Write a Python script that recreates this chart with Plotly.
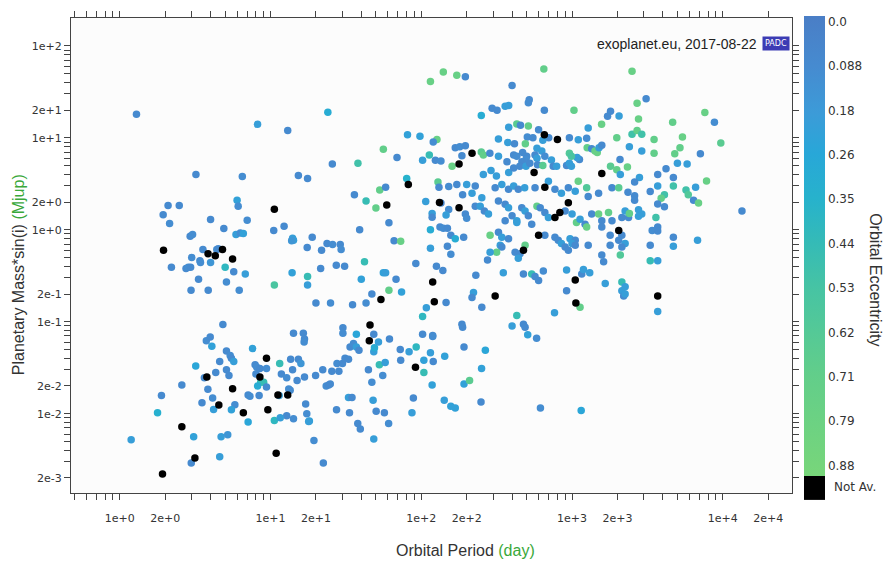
import plotly.graph_objects as go

# ---------------- data ----------------
# planets with a measured eccentricity
period_days = [
    # upper-left / middle band
    1.29, 24, 8.2, 13, 3.2, 6.5, 15.3, 17.6, 25.7, 38,
    81, 98, 127, 56, 120, 102, 113, 124, 135, 160,
    80, 129, 131, 152, 53, 58, 69, 36, 43, 50,
    107, 118, 135, 152, 146, 118, 115, 133, 140, 149,
    157, 39, 61, 66, 73, 115, 149, 157, 92, 126,
    139, 42, 40, 56, 58, 68, 47, 61, 74, 20,
    25, 35, 43,
    # left cluster (hot Jupiters)
    2.09, 2.48, 1.94, 2.14, 4.0, 6.0, 6.1, 7.0, 4.9, 5.9,
    6.3, 6.6, 2.93, 3.04, 10.5, 12.3, 14, 14.2, 13.8, 18.9,
    17.5, 21.8, 23.7, 25.8, 29, 29.4, 3.56, 4.4, 4.5, 3.0,
    3.4, 3.43, 4.0, 2.2, 2.75, 2.85, 2.95, 5.0, 5.7, 6.8,
    3.33, 5.1, 2.97, 3.86, 6.2, 10.6, 13.9, 17.6, 17.6, 21.5,
    27.3, 31,
    # lower-left (low mass)
    1.19, 1.78, 1.89, 2.58, 3.09, 2.98, 3.19, 3.75, 3.98, 4.08,
    4.83, 4.6, 4.33, 3.64, 3.84, 4.13, 3.51, 4.19, 5.1, 5.1,
    5.4, 5.5, 5.7, 5.3, 5.8, 5.5, 4.7, 5.2, 4.6, 7.1,
    7.6, 7.9, 8.1, 8.0, 8.5, 9.4, 8.6, 9.0, 8.2, 9.4,
    8.4, 7.1, 7.3, 10.6, 11.5, 11.8, 12.8, 11.4, 13.5, 13.2,
    13.6, 14, 15.3, 15.9, 15, 16.8, 14.2, 16.5, 16.8, 16.7,
    12.8, 14.2, 11.6, 17.1, 17.4, 18.1, 17.9, 19.4, 22.4, 19.9,
    22.2, 23.4, 24.3, 24.9, 25.5, 27.6, 28.4, 27.4, 30, 30.2,
    30.2, 31.2, 32.9, 33.7, 35.5, 37.1, 38.6, 37.1, 32.9, 34.7,
    33.4, 37.9, 39.4, 44.6, 47, 48.4, 48.9, 48.4, 52, 52.7,
    57.6, 55.5, 47.9, 50.2, 56.9, 60.7, 48.4, 61.5, 72.5, 73,
    83, 92.5, 102, 104, 104, 115, 119, 119, 120, 118,
    88.6, 86.7, 143, 142, 157, 102, 146, 108,
    # lower-middle and top
    192, 266, 251, 192, 209, 249, 617, 1150, 168, 508,
    582, 115, 140,
    # upper-middle dense region
    172, 196, 650, 400, 520, 513, 295, 318, 360, 380,
    655, 1030, 250, 1800, 1720, 2050, 1570, 380, 430, 455,
    513, 600, 700, 505, 550, 640, 960, 1100, 1250, 1280,
    1980, 325, 375, 415, 490, 585, 630, 168, 180, 196,
    186, 250, 258, 285, 325, 370, 410, 430, 470, 500,
    495, 465, 450, 495, 525, 568, 585, 590, 660, 730,
    750, 640, 790, 920, 960, 990, 1120, 1080, 960, 990,
    1260, 1350, 1420, 1470, 1510, 1575, 1800, 1980, 2080, 2330,
    290, 380, 315, 258, 410,
    # central dense region
    172, 200, 228, 217, 188, 252, 309, 342, 379, 410,
    440, 485, 568, 697, 770, 850, 945, 1050, 1100, 1250,
    1280, 1500, 1840, 2040, 2090, 196, 200, 228, 246, 262,
    279, 325, 360, 379, 400, 430, 464, 488, 513, 585,
    615, 660, 697, 900, 1000, 1070, 1130, 1220, 1250, 1350,
    1500, 1575, 1745, 1840, 2140, 2250, 2370, 168, 191, 286,
    325, 342, 379, 360, 430, 540, 660, 770, 810, 850,
    970, 1050, 1575, 1790, 2140, 1790, 2040, 2250, 334, 342,
    316, 286, 275, 419, 452, 488, 440, 900, 945, 1000,
    1050, 1280, 1575, 1620, 2090, 2140, 230, 350, 476, 540,
    568, 600, 645, 920, 1160, 1190, 1310, 1660, 2140, 222,
    217, 252, 920, 1130, 2140, 2200, 186, 188, 400, 430,
    476, 488, 765,
    # right, long periods
    2800, 3700, 4700, 7800, 2600, 3700, 4700, 6600, 2350, 2600,
    2600, 3300, 4100, 3900, 5700, 5900, 6400, 6900, 3700, 4100,
    2760, 2900, 2400, 2760, 3600, 13400, 3700, 3400, 3700,
    3300, 4700, 4700, 6800, 3300, 3700, 2250,
    2250, 3700,
    # upper right
    2500, 3100, 2700, 2760, 4650, 7600, 8800, 2500, 2700, 2900,
    2400, 3500, 5400, 5200, 4800, 3500, 2900, 9700, 7100, 5000,
    5800, 4200,
]

mass_mjup = [
    18, 19, 14, 12, 4.0, 3.8, 3.9, 3.6, 5.2, 5.3,
    10.8, 10.4, 9.6, 7.5, 9.0, 5.7, 6.5, 5.7, 5.6, 4.9,
    3.6, 3.3, 2.9, 2.96, 2.7, 2.9, 6.1, 2.4, 2.06, 1.72,
    2.03, 1.5, 1.95, 1.66, 1.45, 1.37, 1.0, 1.07, 1.04, 1.04,
    0.87, 1.0, 1.19, 0.76, 0.75, 0.63, 0.66, 0.54, 0.43, 0.4,
    0.36, 0.45, 0.29, 0.34, 0.34, 0.29, 0.20, 0.22, 0.21, 0.16,
    0.16, 0.153, 0.16,
    1.84, 1.84, 1.46, 1.17, 1.29, 2.09, 1.80, 1.27, 1.03, 0.89,
    0.92, 0.91, 0.85, 0.89, 0.98, 1.09, 0.81, 0.77, 0.76, 0.83,
    0.64, 0.60, 0.71, 0.69, 0.69, 0.61, 0.61, 0.61, 0.62, 0.5,
    0.46, 0.44, 0.44, 0.39, 0.38, 0.39, 0.39, 0.39, 0.35, 0.33,
    0.29, 0.27, 0.22, 0.22, 0.22, 0.25, 0.34, 0.31, 0.25, 0.38,
    0.41, 0.4,
    0.0052, 0.0102, 0.0158, 0.0205, 0.0056, 0.0029, 0.033, 0.062, 0.068, 0.054,
    0.093, 0.037, 0.028, 0.0245, 0.0184, 0.0148, 0.0131, 0.0111, 0.030, 0.048,
    0.043, 0.040, 0.037, 0.026, 0.0125, 0.011, 0.0056, 0.0059, 0.0034, 0.0081,
    0.051, 0.034, 0.032, 0.027, 0.031, 0.031, 0.022, 0.022, 0.020, 0.0195,
    0.0158, 0.016, 0.0155, 0.0084, 0.035, 0.027, 0.0245, 0.0158, 0.018, 0.0185,
    0.039, 0.030, 0.039, 0.035, 0.023, 0.025, 0.075, 0.075, 0.065, 0.060,
    0.0095, 0.0088, 0.009, 0.0127, 0.010, 0.0083, 0.0082, 0.0051, 0.0029, 0.026,
    0.030, 0.020, 0.0205, 0.021, 0.029, 0.035, 0.029, 0.011, 0.035, 0.086,
    0.075, 0.040, 0.039, 0.053, 0.058, 0.053, 0.049, 0.073, 0.015, 0.015,
    0.0102, 0.0078, 0.0068, 0.030, 0.022, 0.047, 0.052, 0.073, 0.060, 0.034,
    0.036, 0.026, 0.014, 0.0106, 0.0102, 0.0078, 0.0053, 0.065, 0.050, 0.038,
    0.047, 0.053, 0.073, 0.038, 0.028, 0.046, 0.071, 0.069, 0.037, 0.0205,
    0.0148, 0.0102, 0.042, 0.014, 0.012, 0.114, 0.162, 0.142,
    0.053, 0.049, 0.031, 0.021, 0.023, 0.0134, 0.0115, 0.0108, 0.0115, 0.072,
    0.066, 41, 52,
    48, 46, 56, 37, 26, 24, 21, 20, 22, 22.5,
    20, 20, 17.5, 19.5, 17.2, 17.3, 14, 13, 14.1, 13.7,
    13.4, 12.2, 10, 10.2, 10, 9.4, 10, 9.5, 9.9, 12.8,
    10, 9.7, 8.9, 8.6, 8.6, 7.7, 7.2, 7.8, 8.0, 8.2,
    6.4, 7.0, 6.5, 6.8, 6.3, 5.5, 6.5, 6.3, 6.9, 6.3,
    5.8, 5.5, 4.9, 4.9, 5.3, 6.5, 6.0, 5.1, 6.3, 5.75,
    4.9, 5.0, 4.9, 5.0, 5.3, 4.9, 5.8, 6.1, 6.8, 6.3,
    7.8, 7.6, 7.2, 6.9, 7.8, 8.3, 4.9, 4.5, 5.8, 4.8,
    4.4, 4.2, 3.85, 4.0, 4.7,
    3.1, 3.1, 3.0, 2.5, 2.4, 2.23, 2.86, 3.1, 2.75, 3.0,
    2.75, 2.86, 2.86, 3.37, 2.75, 2.5, 2.86, 2.63, 3.37, 2.86,
    2.3, 2.5, 2.86, 2.86, 4.0, 1.48, 1.33, 1.8, 1.8, 1.6,
    1.48, 2.05, 1.89, 1.74, 1.42, 1.25, 1.74, 1.6, 1.42, 1.8,
    1.74, 1.54, 1.36, 1.6, 1.48, 1.2, 1.3, 1.15, 1.07, 1.48,
    1.48, 1.25, 1.54, 1.25, 1.36, 1.6, 1.36, 0.8, 0.83, 0.87,
    0.94, 0.83, 0.8, 1.25, 1.2, 1.15, 0.87, 0.83, 0.77, 0.71,
    0.8, 0.77, 1.07, 0.87, 0.87, 0.68, 0.77, 0.71, 0.68, 0.65,
    0.57, 0.57, 0.47, 0.57, 0.55, 0.68, 0.49, 0.65, 0.6, 0.71,
    0.68, 0.68, 0.53, 0.45, 0.53, 0.65, 0.32, 0.34, 0.33, 0.33,
    0.31, 0.28, 0.355, 0.365, 0.33, 0.37, 0.34, 0.26, 0.27, 0.208,
    0.183, 0.144, 0.217, 0.144, 0.217, 0.19, 0.094, 0.087, 0.09, 0.117,
    0.094, 0.087, 0.125,
    3.7, 4.0, 3.7, 3.4, 3.3, 3.0, 3.0, 2.9, 2.55, 2.35,
    2.1, 2.6, 2.4, 2.2, 2.7, 2.4, 2.1, 1.95, 1.9, 1.78,
    1.65, 1.48, 1.5, 1.40, 1.36, 1.6, 1.07, 0.98, 0.97,
    0.68, 0.83, 0.66, 0.77, 0.46, 0.46, 0.24,
    0.2, 0.129,
    53, 26.6, 23.7, 16, 14.8, 18.9, 14.8, 10.9, 12, 10.9,
    8, 9.6, 10.2, 7.8, 6.7, 6.8, 7.2, 8.8, 6.7, 5.3,
    5.2, 4.6,
]

eccentricity = [
    0.08, 0.3, 0.2, 0.08, 0.08, 0.1, 0.08, 0.08, 0.08, 0.5,
    0.22, 0.22, 0.75, 0.7, 0.1, 0.2, 0.45, 0.08, 0.1, 0.75,
    0.35, 0.65, 0.08, 0.1, 0.7, 0.08, 0.08, 0.08, 0.45, 0.7,
    0.2, 0.2, 0.05, 0.1, 0.2, 0.08, 0.3, 0.08, 0.1, 0.08,
    0.08, 0.08, 0.08, 0.08, 0.75, 0.2, 0.08, 0.1, 0.08, 0.08,
    0.08, 0.45, 0.22, 0.22, 0.2, 0.08, 0.08, 0.7, 0.22, 0.08,
    0.1, 0.08, 0.1,
    0.08, 0.08, 0.08, 0.1, 0.08, 0.22, 0.1, 0.1, 0.08, 0.2,
    0.1, 0.22, 0.08, 0.1, 0.08, 0.08, 0.2, 0.2, 0.15, 0.08,
    0.08, 0.08, 0.08, 0.1, 0.08, 0.1, 0.08, 0.1, 0.08, 0.1,
    0.08, 0.1, 0.15, 0.08, 0.08, 0.1, 0.08, 0.4, 0.08, 0.2,
    0.08, 0.1, 0.08, 0.08, 0.1, 0.55, 0.22, 0.45, 0.2, 0.08,
    0.08, 0.08,
    0.2, 0.33, 0.08, 0.08, 0.22, 0.08, 0.25, 0.1, 0.08, 0.22,
    0.08, 0.08, 0.08, 0.08, 0.08, 0.1, 0.08, 0.2, 0.08, 0.08,
    0.1, 0.08, 0.2, 0.08, 0.1, 0.22, 0.2, 0.15, 0.2, 0.25,
    0.22, 0.08, 0.1, 0.08, 0.08, 0.1, 0.45, 0.45, 0.3, 0.08,
    0.08, 0.08, 0.1, 0.4, 0.45, 0.08, 0.1, 0.2, 0.08, 0.1,
    0.08, 0.08, 0.08, 0.15, 0.08, 0.08, 0.08, 0.08, 0.08, 0.1,
    0.08, 0.1, 0.2, 0.08, 0.1, 0.22, 0.2, 0.1, 0.08, 0.08,
    0.08, 0.1, 0.08, 0.08, 0.08, 0.1, 0.08, 0.08, 0.08, 0.08,
    0.1, 0.08, 0.08, 0.08, 0.1, 0.2, 0.08, 0.25, 0.2, 0.08,
    0.08, 0.08, 0.08, 0.08, 0.1, 0.2, 0.3, 0.08, 0.2, 0.45,
    0.2, 0.1, 0.2, 0.08, 0.08, 0.1, 0.2, 0.08, 0.08, 0.08,
    0.2, 0.4, 0.08, 0.22, 0.45, 0.2, 0.08, 0.1, 0.08, 0.22,
    0.08, 0.2, 0.22, 0.2, 0.22, 0.4, 0.08, 0.2,
    0.08, 0.25, 0.22, 0.22, 0.65, 0.08, 0.1, 0.25, 0.22, 0.22,
    0.1, 0.75, 0.75,
    0.75, 0.08, 0.7, 0.08, 0.08, 0.1, 0.08, 0.08, 0.2, 0.2,
    0.08, 0.7, 0.3, 0.08, 0.08, 0.2, 0.75, 0.2, 0.65, 0.08,
    0.7, 0.08, 0.08, 0.1, 0.08, 0.2, 0.08, 0.2, 0.1, 0.2,
    0.7, 0.2, 0.2, 0.08, 0.7, 0.2, 0.2, 0.08, 0.1, 0.08,
    0.08, 0.65, 0.7, 0.08, 0.2, 0.08, 0.08, 0.1, 0.08, 0.08,
    0.1, 0.08, 0.08, 0.2, 0.08, 0.08, 0.2, 0.08, 0.1, 0.2,
    0.08, 0.65, 0.2, 0.08, 0.2, 0.2, 0.08, 0.2, 0.6, 0.55,
    0.7, 0.08, 0.75, 0.75, 0.2, 0.08, 0.65, 0.7, 0.08, 0.75,
    0.2, 0.2, 0.2, 0.2, 0.08,
    0.08, 0.2, 0.08, 0.2, 0.08, 0.2, 0.08, 0.2, 0.08, 0.2,
    0.08, 0.2, 0.08, 0.2, 0.08, 0.2, 0.08, 0.2, 0.75, 0.6,
    0.08, 0.08, 0.08, 0.65, 0.2, 0.08, 0.1, 0.08, 0.2, 0.08,
    0.2, 0.08, 0.08, 0.2, 0.08, 0.2, 0.08, 0.2, 0.08, 0.7,
    0.08, 0.08, 0.2, 0.08, 0.2, 0.7, 0.2, 0.08, 0.75, 0.08,
    0.75, 0.08, 0.7, 0.08, 0.08, 0.2, 0.08, 0.3, 0.08, 0.75,
    0.08, 0.2, 0.08, 0.08, 0.2, 0.08, 0.08, 0.08, 0.08, 0.2,
    0.2, 0.08, 0.08, 0.08, 0.08, 0.08, 0.08, 0.2, 0.2, 0.08,
    0.7, 0.2, 0.08, 0.08, 0.08, 0.7, 0.2, 0.08, 0.08, 0.2,
    0.08, 0.08, 0.08, 0.08, 0.6, 0.08, 0.08, 0.2, 0.08, 0.45,
    0.08, 0.08, 0.1, 0.2, 0.08, 0.2, 0.2, 0.2, 0.45, 0.2,
    0.08, 0.08, 0.08, 0.7, 0.2, 0.08, 0.08, 0.08, 0.2, 0.45,
    0.08, 0.08, 0.2,
    0.2, 0.08, 0.08, 0.75, 0.08, 0.2, 0.5, 0.2, 0.08, 0.08,
    0.08, 0.08, 0.5, 0.7, 0.5, 0.6, 0.08, 0.75, 0.08, 0.08,
    0.2, 0.2, 0.7, 0.2, 0.5, 0.08, 0.08, 0.1, 0.08,
    0.08, 0.08, 0.2, 0.2, 0.45, 0.2, 0.2,
    0.2, 0.2,
    0.75, 0.08, 0.75, 0.75, 0.7, 0.75, 0.1, 0.5, 0.7, 0.5,
    0.2, 0.7, 0.75, 0.7, 0.7, 0.7, 0.2, 0.65, 0.08, 0.2,
    0.2, 0.08,
]

# planets whose eccentricity is not available (drawn black)
na_period_days = [
    10.6, 1.95, 3.85, 4.3, 4.8, 5.6,
    82, 59, 132, 178, 178, 54, 119, 122,
    1.92, 2.58, 3.15, 3.78, 4.54, 5.6, 6.6, 8.5, 9.4, 9.6,
    10.9, 11.2, 13, 45.7, 45.2, 91.5,
    217, 655, 800, 560, 1575,
    660, 770, 830, 945, 600, 2040, 476, 1050, 309, 1060,
    3700,
]
na_mass_mjup = [
    1.67, 0.60, 0.55, 0.52, 0.61, 0.48,
    3.1, 1.86, 1.98, 1.73, 5.2, 0.174, 0.27, 0.165,
    0.0022, 0.0072, 0.0033, 0.025, 0.0124, 0.0186, 0.0102, 0.025, 0.040, 0.011,
    0.0037, 0.016, 0.016, 0.092, 0.062, 0.032,
    6.8, 10.8, 9.6, 4.2, 4.1,
    2.9, 1.36, 1.54, 1.97, 0.87, 0.98, 0.6, 0.285, 0.19, 0.16,
    0.19,
]

assert len(period_days) == len(mass_mjup) == len(eccentricity), (
    len(period_days), len(mass_mjup), len(eccentricity))
assert len(na_period_days) == len(na_mass_mjup)

# axis ticks
x_major_vals = [1, 2, 10, 20, 100, 200, 1000, 2000, 10000, 20000]
x_major_text = ["1e+0", "2e+0", "1e+1", "2e+1", "1e+2", "2e+2",
                "1e+3", "2e+3", "1e+4", "2e+4"]
y_major_vals = [0.002, 0.01, 0.02, 0.1, 0.2, 1, 2, 10, 20, 100]
y_major_text = ["2e-3", "1e-2", "2e-2", "1e-1", "2e-1", "1e+0", "2e+0",
                "1e+1", "2e+1", "1e+2"]

ecc_tick_vals = [0.0, 0.088, 0.176, 0.264, 0.352, 0.44, 0.528, 0.616, 0.704, 0.792, 0.88]
ecc_tick_text = ["0.0", "0.088", "0.18", "0.26", "0.35", "0.44", "0.53",
                 "0.62", "0.71", "0.79", "0.88"]


def log_ticks(decades, lo, hi, major_vals, major_text):
    vals, text = [], []
    for d in decades:
        for m in range(1, 10):
            v = round(m * 10.0 ** d, 10)
            if lo <= v <= hi:
                vals.append(v)
                lab = ""
                for mv, mt in zip(major_vals, major_text):
                    if abs(mv - v) < 1e-9 * max(1, v):
                        lab = mt
                text.append(lab)
    return vals, text


x_vals, x_text = log_ticks(range(-1, 5), 0.48, 28000, x_major_vals, x_major_text)
y_vals, y_text = log_ticks(range(-3, 3), 0.0014, 190, y_major_vals, y_major_text)

# ---------------- figure ----------------
W, H = 892, 566
L, R, T, B = 71, 100, 11, 73
PW, PH = W - L - R, H - T - B


def px(xp):
    return (xp - L) / PW


def py(yp):
    return (H - B - yp) / PH


# colour scale in "negative eccentricity" so that 0.0 sits at the top of the bar
cmin, cmax = -0.90, 0.012
ecc_colors = [(0.90, "#78d67a"), (0.70, "#62ce8a"), (0.53, "#47c4a3"),
              (0.44, "#35bbb6"), (0.35, "#27b2cc"), (0.26, "#28a7d8"),
              (0.18, "#3c9bd8"), (0.088, "#468bd0"), (-0.012, "#4a7ec6")]
colorscale = [[(-e - cmin) / (cmax - cmin), c] for e, c in ecc_colors]

fig = go.Figure()
fig.add_trace(go.Scatter(
    x=period_days, y=mass_mjup, mode="markers", hoverinfo="skip", showlegend=False,
    marker=dict(
        size=7.5, line=dict(width=0),
        color=[-e for e in eccentricity], colorscale=colorscale, cmin=cmin, cmax=cmax,
        colorbar=dict(
            x=px(804), xanchor="left", y=py(242), yanchor="middle",
            len=460, lenmode="pixels", thickness=21, thicknessmode="pixels",
            outlinewidth=0, xpad=0, ypad=0,
            tickvals=[-v for v in ecc_tick_vals], ticktext=ecc_tick_text,
            ticks="", ticklabelposition="outside",
            tickfont=dict(family="DejaVu Sans", size=12, color="#333"),
        ),
    ),
))
fig.add_trace(go.Scatter(
    x=na_period_days, y=na_mass_mjup, mode="markers", hoverinfo="skip",
    showlegend=False, marker=dict(size=7.5, color="black", line=dict(width=0)),
))

axis_common = dict(
    type="log", showgrid=False, zeroline=False, showline=True,
    linecolor="#444", linewidth=1, mirror="allticks",
    ticks="outside", ticklen=6, tickwidth=1, tickcolor="#444",
    tickfont=dict(family="DejaVu Sans", size=11, color="#333"),
    fixedrange=True,
)
fig.update_xaxes(range=[-0.3236, 4.459], tickvals=x_vals, ticktext=x_text,
                 tickangle=0, ticklabelstandoff=9, **axis_common)
fig.update_yaxes(range=[-2.863, 2.303], tickvals=y_vals, ticktext=y_text,
                 **axis_common)

green = "#3aa83a"
annotations = [
    dict(text="Orbital Period <span style='color:%s'>(day)</span>" % green,
         x=px(465), y=py(551), xanchor="center", yanchor="middle",
         font=dict(family="Liberation Sans", size=16, color="#333")),
    dict(text="Planetary Mass*sin(i) <span style='color:%s'>(Mjup)</span>" % green,
         x=px(18), y=py(272), xanchor="center", yanchor="middle", textangle=-90,
         font=dict(family="Liberation Sans", size=16, color="#333")),
    dict(text="exoplanet.eu, 2017-08-22", x=px(759), y=py(37),
         xanchor="right", yanchor="middle",
         font=dict(family="Liberation Sans", size=14, color="#222")),
    dict(text="PADC", x=px(776), y=py(37), xanchor="center", yanchor="middle",
         bgcolor="#3c3cb4", borderpad=2,
         font=dict(family="DejaVu Sans", size=8, color="white")),
    dict(text="Not Av.", x=px(832), y=py(487), xanchor="left", yanchor="middle",
         font=dict(family="DejaVu Sans", size=12, color="#333")),
    dict(text="Orbital Eccentricity", x=px(876), y=py(276), xanchor="center",
         yanchor="middle", textangle=90,
         font=dict(family="Liberation Sans", size=16, color="#333")),
]
for a in annotations:
    a.update(xref="paper", yref="paper", showarrow=False)

fig.update_layout(
    width=W, height=H,
    margin=dict(l=L, r=R, t=T, b=B),
    paper_bgcolor="white", plot_bgcolor="#fcfcfc",
    annotations=annotations,
    shapes=[dict(type="rect", xref="paper", yref="paper",
                 x0=px(804), x1=px(825), y0=py(500), y1=py(473),
                 fillcolor="black", line=dict(width=0))],
    hovermode=False,
)

fig.write_html("out.html")
